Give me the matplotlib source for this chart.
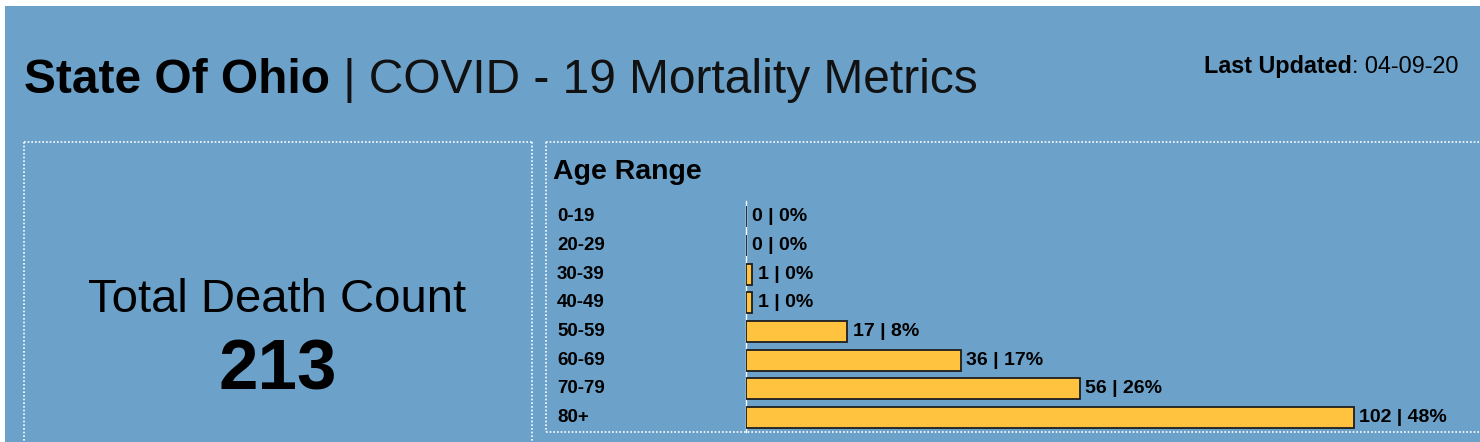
import matplotlib.pyplot as plt
from matplotlib.patches import Rectangle
from matplotlib.lines import Line2D

# --- data ---
age_ranges = ['0-19', '20-29', '30-39', '40-49', '50-59', '60-69', '70-79', '80+']
deaths = [0, 0, 1, 1, 17, 36, 56, 102]
pct = [0, 0, 0, 0, 8, 17, 26, 48]
total_deaths = 213
last_updated = '04-09-20'

W, H = 1480, 442
BG = '#6ca1c9'
BAR = '#ffc33f'

plt.rcParams['font.family'] = ['Liberation Sans', 'DejaVu Sans']

fig = plt.figure(figsize=(W / 100, H / 100), dpi=100)
fig.patch.set_facecolor('white')


def fx(px):
    return px / W


def fy(py):
    return 1 - py / H


# blue panel
fig.patches.append(Rectangle((fx(5), 0), 1 - fx(5), fy(6), transform=fig.transFigure,
                             facecolor=BG, edgecolor='none', zorder=-5))


def dotted(x0, y0, x1, y1):
    fig.add_artist(Line2D([fx(x0), fx(x1)], [fy(y0), fy(y1)], transform=fig.transFigure,
                          color='white', lw=1.2, linestyle=(0, (1, 1.2)), zorder=1))


# left box
dotted(24, 142, 532, 142)
dotted(24, 142, 24, 445)
dotted(532, 142, 532, 445)
# right box
dotted(546, 142, 1480, 142)
dotted(546, 142, 546, 432)
dotted(546, 432, 1480, 432)

renderer = fig.canvas.get_renderer()

# header
t1 = fig.text(fx(24), fy(93), 'State Of Ohio', fontsize=34.5, fontweight='bold',
              ha='left', va='baseline', color='black')
bb = t1.get_window_extent(renderer)
fig.text(bb.x1 / W, fy(93), ' | COVID - 19 Mortality Metrics', fontsize=34.5,
         ha='left', va='baseline', color='#111111')

t2 = fig.text(fx(1458), fy(73), ': ' + last_updated, fontsize=16.8,
              ha='right', va='baseline', color='black')
bb = t2.get_window_extent(renderer)
fig.text(bb.x0 / W, fy(73), 'Last Updated', fontsize=16.8, fontweight='bold',
         ha='right', va='baseline', color='black')

# total count
fig.text(fx(277), fy(312), 'Total Death Count', fontsize=34, ha='center',
         va='baseline', color='black')
fig.text(fx(278), fy(390), str(total_deaths), fontsize=51, fontweight='bold',
         ha='center', va='baseline', color='black')

# age range panel
fig.text(fx(553), fy(179), 'Age Range', fontsize=20.5, fontweight='bold',
         ha='left', va='baseline', color='black')

ax_left, ax_right, ax_top, ax_bot = 746, 1480, 201, 432
ax = fig.add_axes([fx(ax_left), fy(ax_bot), fx(ax_right - ax_left), (ax_bot - ax_top) / H])
ax.set_zorder(3)
ax.patch.set_alpha(0)

px_per_unit = 5.96
spacing = 28.69
first_center = 216.7
ys = list(range(len(age_ranges)))
ax.barh(ys, deaths, height=21 / spacing, color=BAR, edgecolor='#1e1e1e', linewidth=1.3,
        zorder=3)
ax.set_xlim(0, (ax_right - ax_left) / px_per_unit)
ax.set_ylim((ax_bot - first_center) / spacing, (ax_top - first_center) / spacing)

for y, v, p, lab in zip(ys, deaths, pct, age_ranges):
    ax.annotate(f'{v} | {p}%', (v, y), xytext=(4, 0), textcoords='offset points',
                ha='left', va='center', fontsize=14, fontweight='bold', color='black')
    fig.text(fx(557), fy(first_center + y * spacing), lab, fontsize=13.5,
             fontweight='bold', ha='left', va='center', color='black')

for s in ['top', 'right', 'bottom']:
    ax.spines[s].set_visible(False)
ax.spines['left'].set_color('white')
ax.spines['left'].set_linewidth(1)
ax.spines['left'].set_zorder(1)
ax.set_xticks([])
ax.set_yticks([])

fig.savefig('out.png', dpi=100, facecolor=fig.get_facecolor())
